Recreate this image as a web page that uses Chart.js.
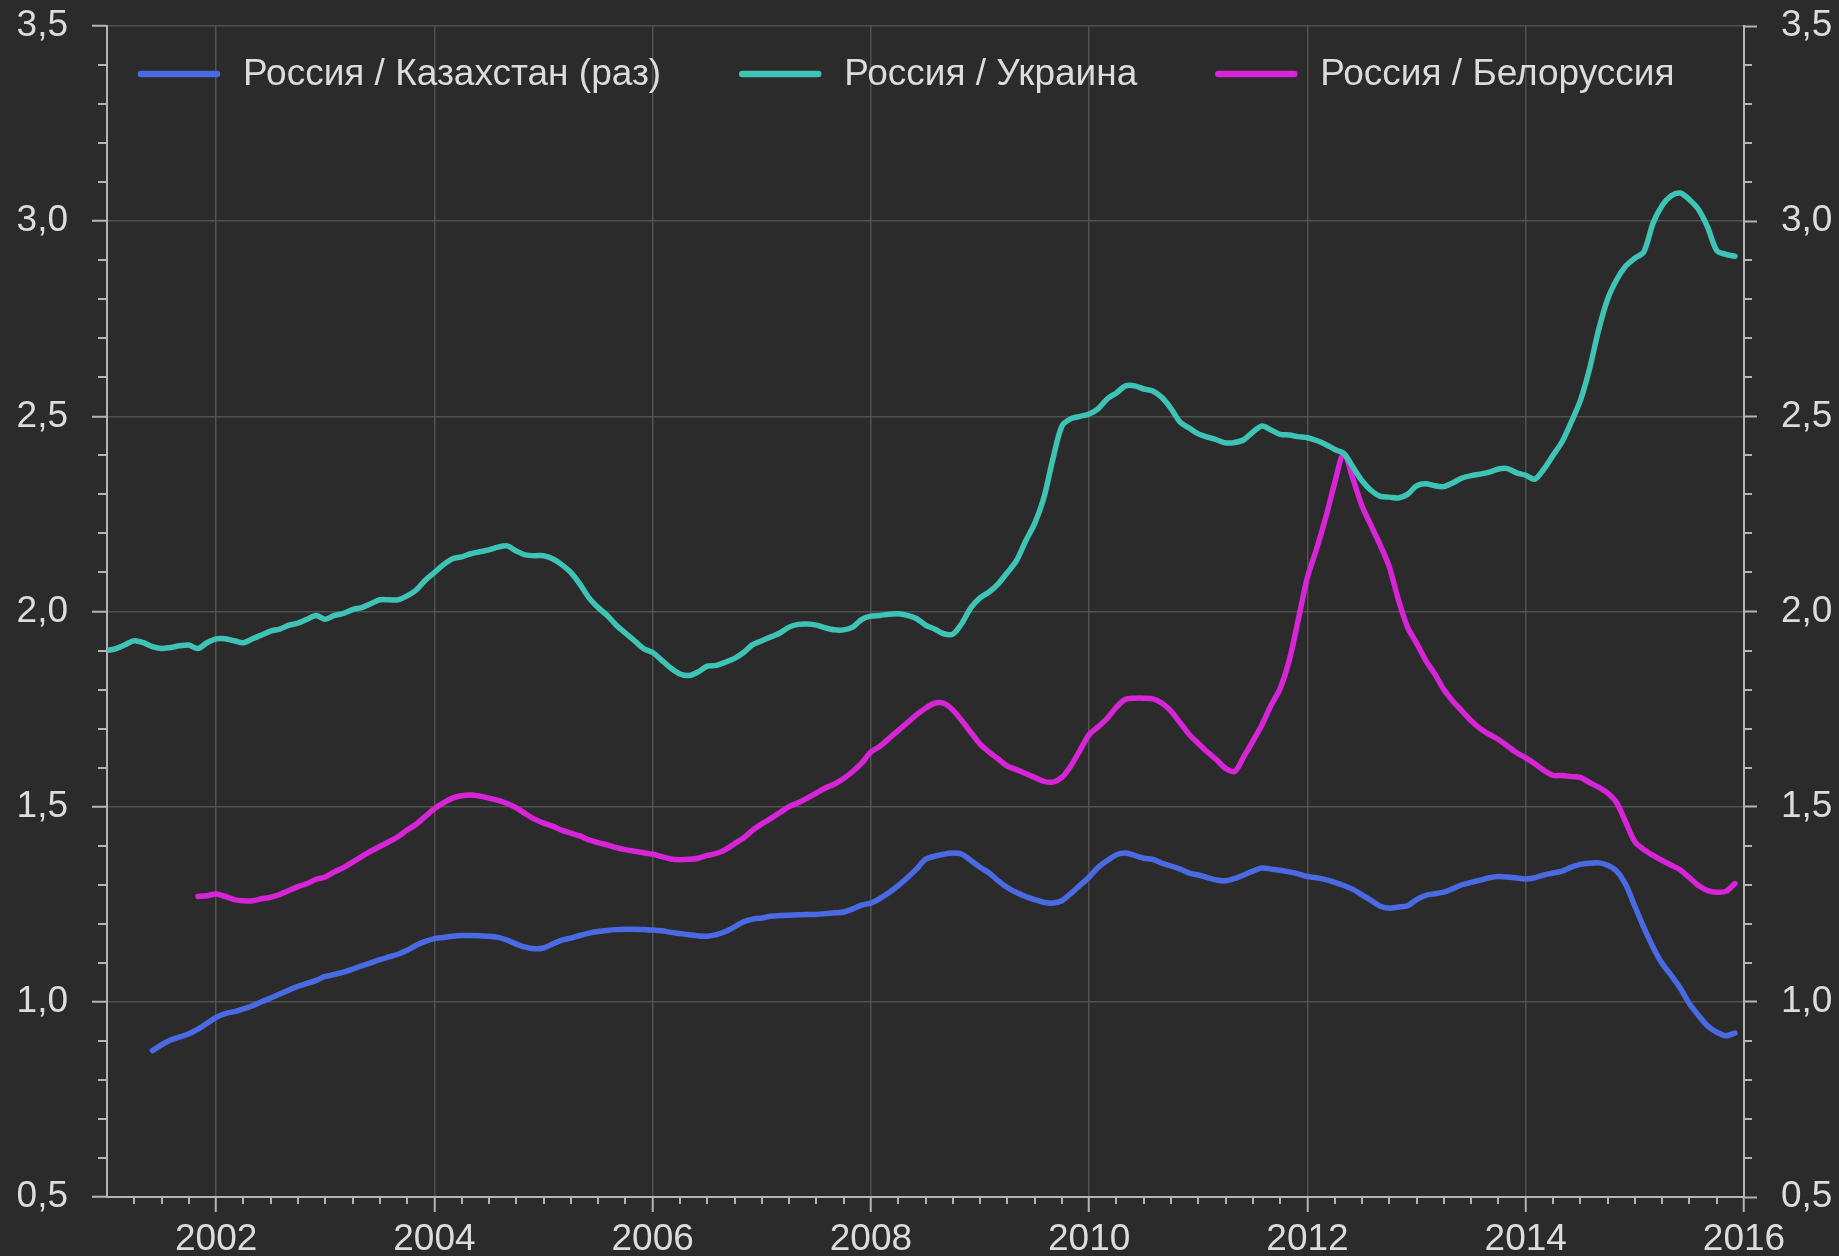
<!DOCTYPE html>
<html lang="ru">
<head>
<meta charset="utf-8">
<title>Россия / Казахстан, Украина, Белоруссия</title>
<script src="https://cdn.jsdelivr.net/npm/chart.js@4.4.1/dist/chart.umd.min.js"></script>
<style>
  html, body { margin: 0; padding: 0; background: #2b2b2b; overflow: hidden; }
  #wrap { width: 1839px; height: 1256px; position: relative; }
  canvas { display: block; }
</style>
</head>
<body>
<div id="wrap"><canvas id="chart" width="1839" height="1256"></canvas></div>
<script>
// Monthly series, January 2001 .. December 2015 (12 values per row)
const firstYear = 2001;

const seriesLabels = ['Россия / Казахстан (раз)', 'Россия / Украина', 'Россия / Белоруссия'];

const kazakhstan = [
  null, null, null, null, null, 0.875, 0.890, 0.902, 0.910, 0.918, 0.930, 0.945,
  0.960, 0.970, 0.975, 0.982, 0.990, 1.000, 1.010, 1.020, 1.030, 1.040, 1.047, 1.055,
  1.065, 1.070, 1.076, 1.084, 1.092, 1.100, 1.108, 1.115, 1.122, 1.132, 1.145, 1.155,
  1.162, 1.165, 1.168, 1.170, 1.170, 1.169, 1.168, 1.165, 1.158, 1.148, 1.140, 1.136,
  1.138, 1.148, 1.158, 1.163, 1.170, 1.176, 1.180, 1.183, 1.185, 1.186, 1.186, 1.185,
  1.184, 1.182, 1.178, 1.175, 1.172, 1.169, 1.168, 1.172, 1.180, 1.192, 1.205, 1.212,
  1.215, 1.219, 1.221, 1.222, 1.223, 1.224, 1.224, 1.226, 1.228, 1.230, 1.238, 1.248,
  1.253, 1.265, 1.280, 1.298, 1.318, 1.340, 1.365, 1.373, 1.378, 1.381, 1.378, 1.362,
  1.345, 1.330, 1.310, 1.293, 1.280, 1.270, 1.262, 1.255, 1.253, 1.259, 1.278, 1.299,
  1.320, 1.345, 1.362, 1.377, 1.381, 1.375, 1.368, 1.365, 1.355, 1.348, 1.340, 1.330,
  1.325, 1.318, 1.312, 1.310, 1.316, 1.325, 1.335, 1.343, 1.340, 1.337, 1.333, 1.328,
  1.321, 1.318, 1.313, 1.306, 1.298, 1.288, 1.274, 1.260, 1.245, 1.240, 1.243, 1.246,
  1.262, 1.273, 1.277, 1.281, 1.290, 1.300, 1.306, 1.312, 1.318, 1.321, 1.320, 1.317,
  1.315, 1.318, 1.325, 1.330, 1.335, 1.345, 1.352, 1.355, 1.356, 1.350, 1.335, 1.300,
  1.245, 1.190, 1.140, 1.098, 1.068, 1.035, 0.995, 0.965, 0.938, 0.922, 0.913, 0.920
];

const ukraine = [
  1.900, 1.905, 1.915, 1.925, 1.920, 1.910, 1.905, 1.908, 1.912, 1.914, 1.905, 1.920,
  1.930, 1.930, 1.925, 1.920, 1.930, 1.940, 1.950, 1.955, 1.965, 1.970, 1.980, 1.990,
  1.980, 1.990, 1.995, 2.005, 2.010, 2.020, 2.030, 2.030, 2.030, 2.040, 2.055, 2.080,
  2.100, 2.120, 2.135, 2.140, 2.148, 2.153, 2.158, 2.165, 2.168, 2.155, 2.145, 2.143,
  2.143, 2.135, 2.120, 2.100, 2.070, 2.035, 2.010, 1.990, 1.965, 1.945, 1.925, 1.905,
  1.895, 1.875, 1.855, 1.840, 1.836, 1.845, 1.860, 1.862, 1.870, 1.880, 1.895, 1.915,
  1.925, 1.935, 1.945, 1.960, 1.967, 1.968, 1.965, 1.958, 1.953, 1.953, 1.960, 1.980,
  1.988, 1.990, 1.993, 1.994, 1.990, 1.982, 1.965, 1.955, 1.943, 1.942, 1.970, 2.010,
  2.035, 2.050, 2.071, 2.100, 2.130, 2.180, 2.225, 2.290, 2.390, 2.475, 2.494, 2.500,
  2.506, 2.520, 2.545, 2.560, 2.578, 2.578, 2.570, 2.565, 2.548, 2.520, 2.485, 2.470,
  2.455, 2.447, 2.440, 2.432, 2.433, 2.440, 2.460, 2.475, 2.465, 2.454, 2.452, 2.448,
  2.445, 2.438, 2.428, 2.415, 2.405, 2.370, 2.335, 2.310, 2.295, 2.293, 2.291, 2.300,
  2.322, 2.327, 2.322, 2.320, 2.330, 2.342, 2.348, 2.352, 2.357, 2.365, 2.366, 2.355,
  2.349, 2.339, 2.365, 2.400, 2.435, 2.485, 2.540, 2.620, 2.720, 2.800, 2.850, 2.885,
  2.905, 2.922, 2.995, 3.040, 3.065, 3.072, 3.055, 3.030, 2.985, 2.925, 2.915, 2.910
];

const belarus = [
  null, null, null, null, null, null, null, null, null, null, 1.270, 1.272,
  1.276, 1.270, 1.262, 1.259, 1.259, 1.264, 1.268, 1.275, 1.285, 1.295, 1.303, 1.314,
  1.320, 1.333, 1.344, 1.358, 1.372, 1.386, 1.398, 1.410, 1.423, 1.440, 1.455, 1.475,
  1.495, 1.510, 1.522, 1.528, 1.530, 1.527, 1.522, 1.516, 1.508, 1.497, 1.482, 1.468,
  1.458, 1.450, 1.440, 1.432, 1.425, 1.415, 1.408, 1.402, 1.395, 1.390, 1.386, 1.382,
  1.378, 1.372, 1.366, 1.364, 1.365, 1.368, 1.375, 1.380, 1.390, 1.405, 1.420, 1.440,
  1.456, 1.470, 1.485, 1.500, 1.510, 1.522, 1.535, 1.548, 1.558, 1.572, 1.590, 1.612,
  1.640, 1.655, 1.675, 1.695, 1.715, 1.735, 1.752, 1.765, 1.765, 1.748, 1.720, 1.690,
  1.660, 1.640, 1.622, 1.604, 1.595, 1.585, 1.575, 1.565, 1.563, 1.575, 1.605, 1.645,
  1.685, 1.705, 1.727, 1.755, 1.775, 1.778, 1.778, 1.776, 1.765, 1.745, 1.715, 1.685,
  1.662, 1.640, 1.620, 1.598, 1.590, 1.628, 1.668, 1.710, 1.760, 1.803, 1.875, 1.980,
  2.088, 2.160, 2.240, 2.330, 2.405, 2.340, 2.270, 2.220, 2.170, 2.114, 2.030, 1.960,
  1.919, 1.875, 1.840, 1.800, 1.770, 1.745, 1.720, 1.700, 1.685, 1.672, 1.655, 1.638,
  1.625, 1.610, 1.593, 1.580, 1.580, 1.577, 1.575, 1.562, 1.550, 1.535, 1.510, 1.460,
  1.410, 1.390, 1.375, 1.362, 1.350, 1.338, 1.318, 1.298, 1.285, 1.281, 1.283, 1.303
];

// Axis labels
const xTickLabels = ['2002', '2004', '2006', '2008', '2010', '2012', '2014', '2016'];
const yTickValues = [0.5, 1.0, 1.5, 2.0, 2.5, 3.0, 3.5];
const yTickLabels = ['0,5', '1,0', '1,5', '2,0', '2,5', '3,0', '3,5'];

// Styling
const seriesColors = ['#4a6ae4', '#3dc4b5', '#d624d6'];
const textColor = '#dcdcdc';
const axisColor = '#b4b4b4';
const gridColor = '#515151';
const fontFamily = "'Liberation Sans', Arial, Helvetica, sans-serif";
const fontSize = 37;

// Decimal year of each monthly observation
const monthPos = ukraine.map((_, i) => firstYear + i / 12);
const toPoints = arr => arr.map((v, i) => ({ x: monthPos[i], y: v }));

// Quarterly ticks on the time axis and 0.1 ticks on the value axes
const minorTicks = {
  id: 'minorTicks',
  afterDraw(chart) {
    const { ctx, chartArea: a, scales } = chart;
    const xs = scales.x, ys = scales.y;
    ctx.save();
    ctx.strokeStyle = axisColor;
    ctx.lineWidth = 2;
    ctx.beginPath();
    const quarters = Math.round((xs.max - xs.min) * 4);
    for (let q = 1; q < quarters; q++) {
      const v = xs.min + q / 4;
      if (xTickLabels.includes(String(v))) continue;
      const px = Math.round(xs.getPixelForValue(v));
      ctx.moveTo(px, a.bottom);
      ctx.lineTo(px, a.bottom + 7);
    }
    for (let t = 6; t < 35; t++) {
      if (t % 5 === 0) continue;
      const py = Math.round(ys.getPixelForValue(t / 10));
      ctx.moveTo(a.left, py);
      ctx.lineTo(a.left - 9, py);
      ctx.moveTo(a.right, py);
      ctx.lineTo(a.right + 8, py);
    }
    ctx.stroke();
    ctx.restore();
  }
};

// Legend drawn inside the top of the plot area
const insideLegend = {
  id: 'insideLegend',
  afterDatasetsDraw(chart) {
    const { ctx, chartArea: a } = chart;
    const lineLen = 82, textGap = 23, itemGap = 78;
    const cy = a.top + 48;
    let x = a.left + 31;
    ctx.save();
    ctx.font = fontSize + 'px ' + fontFamily;
    ctx.textBaseline = 'middle';
    ctx.textAlign = 'left';
    chart.data.datasets.forEach(ds => {
      ctx.strokeStyle = ds.borderColor;
      ctx.lineWidth = 6.5;
      ctx.lineCap = 'round';
      ctx.beginPath();
      ctx.moveTo(x + 3, cy);
      ctx.lineTo(x + lineLen - 3, cy);
      ctx.stroke();
      x += lineLen + textGap;
      ctx.fillStyle = textColor;
      ctx.fillText(ds.label, x, cy + 1);
      x += ctx.measureText(ds.label).width + itemGap;
    });
    ctx.restore();
  }
};

Chart.defaults.font.family = fontFamily;
Chart.defaults.font.size = fontSize;
Chart.defaults.color = textColor;

// Value axes keep a fixed width and do not reserve room above/below for their end labels
const fitValueAxis = width => s => {
  s.width = width;
  s.paddingTop = 0;
  s.paddingBottom = 0;
};

const yAxisBase = {
  type: 'linear',
  min: 0.5,
  max: 3.5,
  afterBuildTicks: s => { s.ticks = yTickValues.map(v => ({ value: v })); },
  ticks: {
    callback: (v, i) => yTickLabels[i],
    color: textColor,
    padding: 24,
    font: { size: fontSize }
  },
  border: { color: axisColor, width: 2 }
};

new Chart(document.getElementById('chart'), {
  type: 'line',
  data: {
    datasets: [
      { label: seriesLabels[0], data: toPoints(kazakhstan), borderColor: seriesColors[0] },
      { label: seriesLabels[1], data: toPoints(ukraine), borderColor: seriesColors[1] },
      { label: seriesLabels[2], data: toPoints(belarus), borderColor: seriesColors[2] }
    ]
  },
  options: {
    responsive: false,
    animation: false,
    events: [],
    devicePixelRatio: 1,
    layout: { padding: { top: 26, left: 0, right: 0, bottom: 0 } },
    elements: {
      line: { borderWidth: 5.5, tension: 0.3, borderCapStyle: 'round', borderJoinStyle: 'round', fill: false },
      point: { radius: 0 }
    },
    plugins: {
      legend: { display: false },
      tooltip: { enabled: false }
    },
    scales: {
      x: {
        type: 'linear',
        min: firstYear,
        max: 2016,
        afterBuildTicks: s => { s.ticks = xTickLabels.map(l => ({ value: Number(l) })); },
        ticks: {
          callback: v => String(v),
          color: textColor,
          padding: 6,
          maxRotation: 0,
          autoSkip: false,
          font: { size: fontSize }
        },
        grid: {
          color: gridColor,
          lineWidth: 1.5,
          tickLength: 15,
          tickColor: axisColor,
          tickWidth: 2
        },
        border: { color: axisColor, width: 2 },
        afterFit: s => { s.height = 59; }
      },
      y: Object.assign({}, yAxisBase, {
        position: 'left',
        grid: { color: gridColor, lineWidth: 1.5, tickLength: 15, tickColor: axisColor, tickWidth: 2 },
        afterFit: fitValueAxis(107)
      }),
      y2: Object.assign({}, yAxisBase, {
        position: 'right',
        display: true,
        grid: { drawOnChartArea: false, tickLength: 13, tickColor: axisColor, tickWidth: 2 },
        afterFit: fitValueAxis(95)
      })
    }
  },
  plugins: [minorTicks, insideLegend]
});
</script>
</body>
</html>
